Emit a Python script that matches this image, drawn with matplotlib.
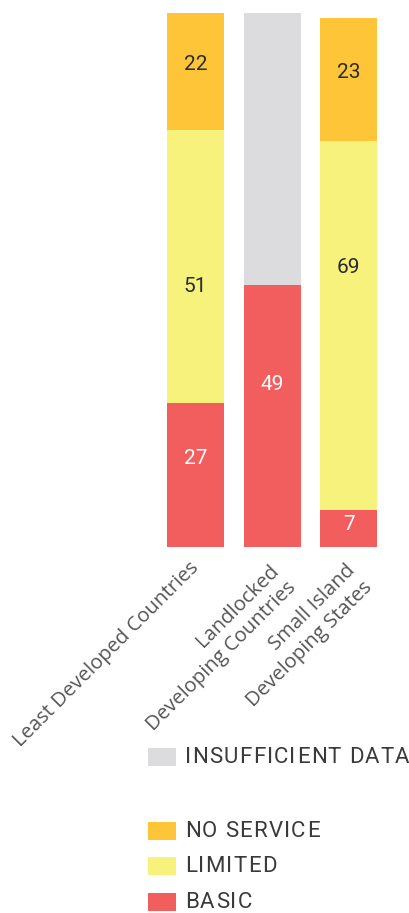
import matplotlib.pyplot as plt
import matplotlib.transforms as mtransforms
from matplotlib.font_manager import FontProperties
from matplotlib.patches import Rectangle

groups = ["Least Developed Countries",
          "Landlocked\nDeveloping Countries",
          "Small Island\nDeveloping States"]

basic = [27, 49, 7]
limited = [51, 0, 69]
no_service = [22, 0, 23]
insufficient = [0, 51, 0]

# where each value label sits inside its segment (data units)
label_y = {
    "basic": [16.5, 30.5, 4.3],
    "limited": [48.7, None, 52.4],
    "no_service": [90.3, None, 88.8],
}

COLORS = {
    "basic": "#F15E5D",
    "limited": "#F7F27B",
    "no_service": "#FEC538",
    "insufficient": "#DCDCDE",
}
TEXT_DARK = "#2b2b2b"
TICK_GRAY = "#555555"

fig = plt.figure(figsize=(4.10, 9.13), dpi=100)
ax = fig.add_axes([0.3835, 0.4009, 0.56, 0.5849])

x = range(len(groups))
width = 0.745
ax.bar(x, basic, width=width, color=COLORS["basic"])
ax.bar(x, limited, width=width, bottom=basic, color=COLORS["limited"])
top2 = [b + l for b, l in zip(basic, limited)]
ax.bar(x, no_service, width=width, bottom=top2, color=COLORS["no_service"])
ax.bar(x, insufficient, width=width, bottom=basic, color=COLORS["insufficient"])

series = [("basic", basic, "white"),
          ("limited", limited, TEXT_DARK),
          ("no_service", no_service, TEXT_DARK)]
for key, vals, tc in series:
    for i, v in enumerate(vals):
        if v and label_y[key][i] is not None:
            ax.text(i, label_y[key][i], str(v), ha="center", va="center",
                    fontsize=15, color=tc, family="Roboto")

ax.set_xlim(-0.5, 2.5)
ax.set_ylim(0, 100)
ax.set_yticks([])
ax.set_xticks(list(x))
ax.set_xticklabels(groups, rotation=45, ha="right", va="center",
                   rotation_mode="anchor", ma="right", fontsize=14.6,
                   color=TICK_GRAY, family="Open Sans", linespacing=1.3)
ax.tick_params(axis="x", length=0, pad=13)
for s in ax.spines.values():
    s.set_visible(False)

# two-line labels sit a little lower-right than the single-line one
nudge = mtransforms.ScaledTranslation(9 / 72, -8 / 72, fig.dpi_scale_trans)
for lab in ax.get_xticklabels():
    if "\n" in lab.get_text():
        lab.set_transform(lab.get_transform() + nudge)


def spaced_text(x0, y0, s, prop, track, **kw):
    """Draw s starting at pixel (x0, y0) with extra tracking between glyphs."""
    r = fig.canvas.get_renderer()
    for k, ch in enumerate(s):
        if ch == " ":
            continue
        w, _, _ = r.get_text_width_height_descent(s[:k], prop, ismath=False) if k else (0, 0, 0)
        fig.text((x0 + w + k * track) / W, 1 - y0 / H, ch, fontproperties=prop,
                 ha="left", va="center", **kw)


# legend drawn by hand in pixel space
legend_items = [("INSUFFICIENT DATA", COLORS["insufficient"], 757),
                ("NO SERVICE", COLORS["no_service"], 831),
                ("LIMITED", COLORS["limited"], 866),
                ("BASIC", COLORS["basic"], 902)]
W, H = 410.0, 913.0
leg_font = FontProperties(family="Roboto", size=16)
for label, color, yc in legend_items:
    fig.add_artist(Rectangle((148 / W, 1 - (yc + 9) / H), 28 / W, 18 / H,
                             transform=fig.transFigure, color=color, lw=0))
    spaced_text(185, yc, label, leg_font, 1.2, color="#3a3a3a")

fig.savefig("out.png", dpi=100)
